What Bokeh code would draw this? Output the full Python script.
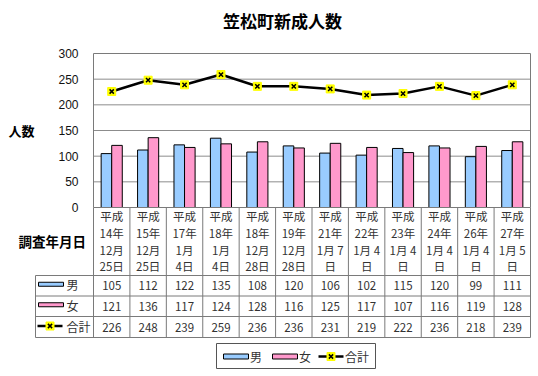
import numpy as np
from bokeh.plotting import figure
from bokeh.models import Range1d, LinearAxis, FixedTicker
from bokeh.core.properties import value
from bokeh.embed import file_html
from bokeh.resources import INLINE

# ---------------- data ----------------
title_text = "笠松町新成人数"
y_label = "人数"
x_label = "調査年月日"
date_labels = [
    ["平成", "14年", "12月", "25日"],
    ["平成", "15年", "12月", "25日"],
    ["平成", "17年", "1月", "4日"],
    ["平成", "18年", "1月", "4日"],
    ["平成", "18年", "12月", "28日"],
    ["平成", "19年", "12月", "28日"],
    ["平成", "21年", "1月 7", "日"],
    ["平成", "22年", "1月 4", "日"],
    ["平成", "23年", "1月 4", "日"],
    ["平成", "24年", "1月 4", "日"],
    ["平成", "26年", "1月 4", "日"],
    ["平成", "27年", "1月 5", "日"],
]
series_names = ["男", "女", "合計"]
male = [105, 112, 122, 135, 108, 120, 106, 102, 115, 120, 99, 111]
female = [121, 136, 117, 124, 128, 116, 125, 117, 107, 116, 119, 128]
total = [226, 248, 239, 259, 236, 236, 231, 219, 222, 236, 218, 239]
y_ticks = [0, 50, 100, 150, 200, 250, 300]

# ---------------- layout ----------------
W, H = 538, 376
PL, PR, PT, PB = 93, 530, 53, 207          # plot frame (px)
TL = 35                                     # table left edge (px)
ROWS = [275, 295.5, 316, 337]               # table horizontal lines (px)
LINE_Y = [215, 232, 249, 265.5]             # category label lines (px)
JP = "Noto Sans CJK JP"
BLUE, PINK, YEL = "#99CCFF", "#FF99CC", "#FFFF00"
GRID = "#8c8c8c"
TXT = "#333333"

n = len(male)
col_w = (PR - PL) / n
k = (PB - PT) / (y_ticks[-1] - y_ticks[0])

p = figure(width=W, height=H,
           x_range=Range1d(-PL / col_w, (W - PL) / col_w),
           y_range=Range1d(-(H - PB) / k, PB / k),
           x_axis_type=None, y_axis_type=None,
           toolbar_location=None, output_backend="svg",
           min_border=0, outline_line_color=None)
p.background_fill_color = "white"
p.border_fill_color = "white"
p.extra_x_ranges = {"px": Range1d(0, W)}
p.extra_y_ranges = {"px": Range1d(H, 0)}

xc = np.arange(n) + 0.5
bw = 0.29

# grid lines
grid_vals = [t for t in y_ticks if t not in (y_ticks[0], y_ticks[-1])]
p.segment(x0=[0] * len(grid_vals), x1=[n] * len(grid_vals), y0=grid_vals, y1=grid_vals,
          line_color=GRID, line_width=1)

# bars
r_m = p.vbar(x=xc - bw / 2, top=male, width=bw, bottom=0,
             fill_color=BLUE, line_color="black", line_width=1)
r_f = p.vbar(x=xc + bw / 2, top=female, width=bw, bottom=0,
             fill_color=PINK, line_color="black", line_width=1)

# total line
p.line(xc, total, line_color="black", line_width=2.5)
p.scatter(xc, total, marker="square", size=8, fill_color=YEL, line_color=YEL)
p.scatter(xc, total, marker="x", size=6, line_color="black", line_width=1.5)

# plot border
p.quad(left=[0], right=[n], bottom=[y_ticks[0]], top=[y_ticks[-1]],
       fill_color=None, line_color="#7a7a7a", line_width=1)

# y axis
yaxis = LinearAxis(ticker=FixedTicker(ticks=y_ticks), fixed_location=0,
                   axis_line_color=None, major_tick_line_color=None,
                   minor_tick_line_color=None, major_label_standoff=9,
                   major_label_text_font="Liberation Sans",
                   major_label_text_font_size="12px",
                   major_label_text_color="#111111")
p.add_layout(yaxis, "left")

# ---------------- table ----------------
cols = list(range(n + 1))
p.segment(x0=cols, x1=cols, y0=[PB] * len(cols), y1=[ROWS[-1]] * len(cols),
          y_range_name="px", line_color="#7a7a7a", line_width=1)
p.segment(x0=[TL] * len(ROWS), x1=[PR] * len(ROWS), y0=ROWS, y1=ROWS,
          x_range_name="px", y_range_name="px", line_color="#7a7a7a", line_width=1)
p.segment(x0=[TL], x1=[TL], y0=[ROWS[0]], y1=[ROWS[-1]],
          x_range_name="px", y_range_name="px", line_color="#7a7a7a", line_width=1)

# category labels
cx, cy, ct = [], [], []
for i, lines in enumerate(date_labels):
    for j, t in enumerate(lines):
        cx.append(i + 0.5)
        cy.append(LINE_Y[j])
        ct.append(t)
p.text(x=cx, y=cy, text=ct, y_range_name="px", text_align="center",
       text_baseline="middle", text_font=value(JP), text_font_size="11.5px",
       text_color=TXT)

# table values
row_c = [(ROWS[r] + ROWS[r + 1]) / 2 for r in range(3)]
tx, ty, tt = [], [], []
for r, ser in enumerate([male, female, total]):
    for i, v in enumerate(ser):
        tx.append(i + 0.5)
        ty.append(row_c[r])
        tt.append(str(v))
p.text(x=tx, y=ty, text=tt, y_range_name="px", text_align="center",
       text_baseline="middle", text_font=value(JP), text_font_size="11.5px",
       text_color=TXT)

# table legend keys
p.quad(left=[38], right=[63], top=[row_c[0] - 3.5], bottom=[row_c[0] + 0.5],
       x_range_name="px", y_range_name="px", fill_color=BLUE, line_color="black", line_width=1)
p.quad(left=[38], right=[63], top=[row_c[1] - 3.5], bottom=[row_c[1] + 0.5],
       x_range_name="px", y_range_name="px", fill_color=PINK, line_color="black", line_width=1)
p.segment(x0=[37], x1=[62], y0=[row_c[2] - 1], y1=[row_c[2] - 1],
          x_range_name="px", y_range_name="px", line_color="black", line_width=2.5)
p.scatter([49.5], [row_c[2] - 1], x_range_name="px", y_range_name="px",
          marker="square", size=8, fill_color=YEL, line_color=YEL)
p.scatter([49.5], [row_c[2] - 1], x_range_name="px", y_range_name="px",
          marker="x", size=6, line_color="black", line_width=1.5)
p.text(x=[66] * 3, y=[c - 1 for c in row_c], text=series_names,
       x_range_name="px", y_range_name="px", text_align="left",
       text_baseline="middle", text_font=value(JP), text_font_size="12px",
       text_color=TXT)

# ---------------- bottom legend ----------------
LY = 356
p.quad(left=[216], right=[375], top=[343], bottom=[368],
       x_range_name="px", y_range_name="px", fill_color="white",
       line_color="#555555", line_width=1)
p.quad(left=[223], right=[248], top=[LY - 2.5], bottom=[LY + 2.5],
       x_range_name="px", y_range_name="px", fill_color=BLUE, line_color="black", line_width=1)
p.quad(left=[272], right=[297], top=[LY - 2.5], bottom=[LY + 2.5],
       x_range_name="px", y_range_name="px", fill_color=PINK, line_color="black", line_width=1)
p.segment(x0=[318], x1=[343], y0=[LY], y1=[LY],
          x_range_name="px", y_range_name="px", line_color="black", line_width=2.5)
p.scatter([330.5], [LY], x_range_name="px", y_range_name="px",
          marker="square", size=8, fill_color=YEL, line_color=YEL)
p.scatter([330.5], [LY], x_range_name="px", y_range_name="px",
          marker="x", size=6, line_color="black", line_width=1.5)
p.text(x=[249.5, 298.5, 344.5], y=[LY] * 3, text=series_names,
       x_range_name="px", y_range_name="px", text_align="left",
       text_baseline="middle", text_font=value(JP), text_font_size="12px",
       text_color=TXT)

# ---------------- titles / labels ----------------
p.text(x=[282], y=[20], text=[title_text], x_range_name="px", y_range_name="px",
       text_align="center", text_baseline="middle", text_font=value(JP),
       text_font_size="17px", text_font_style="bold", text_color="black")
p.text(x=[8], y=[130], text=[y_label], x_range_name="px", y_range_name="px",
       text_align="left", text_baseline="middle", text_font=value(JP),
       text_font_size="13px", text_font_style="bold", text_color="black")
p.text(x=[18], y=[240], text=[x_label], x_range_name="px", y_range_name="px",
       text_align="left", text_baseline="middle", text_font=value(JP),
       text_font_size="13.5px", text_font_style="bold", text_color="black")

open("out.html", "w").write(file_html(p, INLINE))
